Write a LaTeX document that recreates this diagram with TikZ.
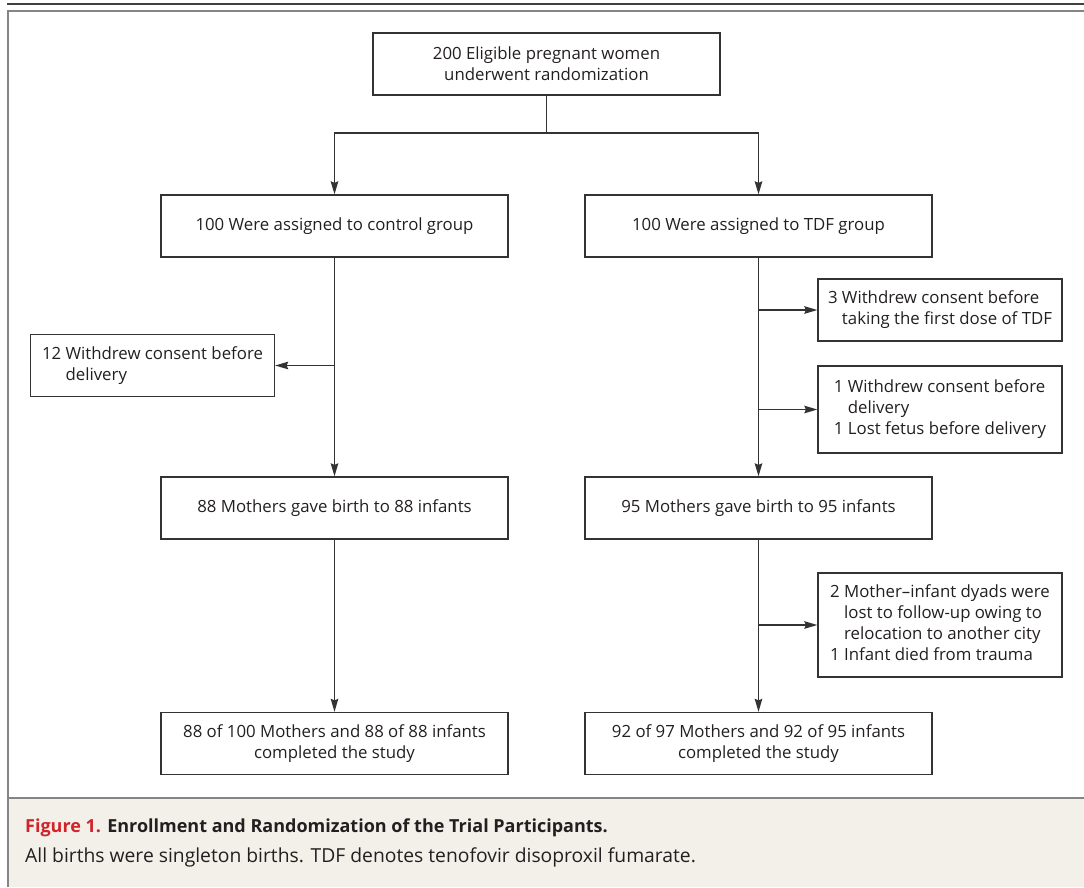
\documentclass[tikz,border=0pt]{standalone}
\usepackage{fontspec}
\setmainfont{Open Sans}
\usetikzlibrary{arrows.meta}
\definecolor{boxline}{HTML}{333333}
\definecolor{frameline}{HTML}{858585}
\definecolor{capbg}{HTML}{F3F0EA}
\definecolor{figred}{HTML}{D2232A}
\definecolor{txt}{HTML}{231F20}
\tikzstyle{stage} = [rectangle, minimum width=347pt, minimum height=62pt, text centered, align=center, draw=boxline, line width=1.3pt, text=txt, font=\fontsize{16.8}{21}\selectfont]
\tikzstyle{excl} = [rectangle, minimum width=244pt, draw=boxline, line width=1.3pt, text=txt, font=\fontsize{16.8}{21}\selectfont]
\tikzstyle{arrow} = [line width=1.4pt, draw=boxline, -{Stealth[length=13pt,width=7.5pt,inset=1.5pt]}]
\tikzstyle{line} = [line width=1.4pt, draw=boxline]
\tikzstyle{frame} = [line width=2pt, draw=frameline]

\begin{document}
\begin{tikzpicture}[x=1pt, y=-1pt, node distance=162pt]
    \useasboundingbox (0,0) rectangle (1084,887);
    %frame and caption panel
    \fill [capbg] (8.5,799) rectangle (1084,887);
    \draw [line width=1.6pt, black!75] (7,4) -- (1084,4);
    \draw [frame] (7.5,887) -- (7.5,11) -- (1084,11);
    \draw [frame] (7.5,798) -- (1084,798);

    %nodes
    \node (rand) [stage] at (546.5,64) {200 Eligible pregnant women\\underwent randomization};
    \node (ctrl) [stage, below of=rand, xshift=-212pt] {100 Were assigned to control group};
    \node (tdf) [stage, below of=rand, xshift=212pt] {100 Were assigned to TDF group};
    \node (birthC) [stage, below of=ctrl, yshift=-120pt] {88 Mothers gave birth to 88 infants};
    \node (birthT) [stage, below of=tdf, yshift=-120pt] {95 Mothers gave birth to 95 infants};
    \node (doneC) [stage, below of=birthC, yshift=-73.5pt] {88 of 100 Mothers and 88 of 88 infants\\completed the study};
    \node (doneT) [stage, below of=birthT, yshift=-73.5pt] {92 of 97 Mothers and 92 of 95 infants\\completed the study};

    \coordinate (split) at (546.5,133);
    \coordinate (brC) at (334.5,365.5);
    \coordinate (brA) at (758.5,310);
    \coordinate (brB) at (758.5,409.5);
    \coordinate (brD) at (758.5,625);

    \node (exC) [excl, left of=brC, node distance=182pt, minimum height=62pt] {\begin{tabular}{@{}r@{\ }l@{}}12 & Withdrew consent before\\ & delivery\end{tabular}};
    \node (exA) [excl, right of=brA, node distance=181.5pt, minimum height=62pt] {\begin{tabular}{@{}r@{\ }l@{}}3 & Withdrew consent before\\ & taking the first dose of TDF\end{tabular}};
    \node (exB) [excl, right of=brB, node distance=181.5pt, minimum height=87pt] {\begin{tabular}{@{}r@{\ }l@{}}1 & Withdrew consent before\\ & delivery\\1 & Lost fetus before delivery\end{tabular}};
    \node (exD) [excl, right of=brD, node distance=181.5pt, minimum height=104pt] {\begin{tabular}{@{}r@{\ }l@{}}2 & Mother--infant dyads were\\ & lost to follow-up owing to\\ & relocation to another city\\1 & Infant died from trauma\end{tabular}};

    \node (figcap) [anchor=base west, inner sep=0pt, text=txt, font=\fontsize{18}{21}\selectfont\bfseries] at (25,832) {\textcolor{figred}{Figure 1.} Enrollment and Randomization of the Trial Participants.};
    \node (capnote) [anchor=base west, inner sep=0pt, text=txt, font=\fontsize{19.3}{21}\selectfont] at (25,862) {All births were singleton births. TDF denotes tenofovir disoproxil fumarate.};

    %arrows
    \draw [line] (rand) -- (split);
    \draw [arrow] (split) -| (ctrl);
    \draw [arrow] (split) -| (tdf);

    \draw [arrow] (ctrl) -- (birthC);
    \draw [arrow] (birthC) -- (doneC);
    \draw [arrow] (brC) -- (exC);

    \draw [arrow] (tdf) -- (birthT);
    \draw [arrow] (birthT) -- (doneT);
    \draw [arrow] (brA) -- (exA);
    \draw [arrow] (brB) -- (exB);
    \draw [arrow] (brD) -- (exD);
\end{tikzpicture}
\end{document}
